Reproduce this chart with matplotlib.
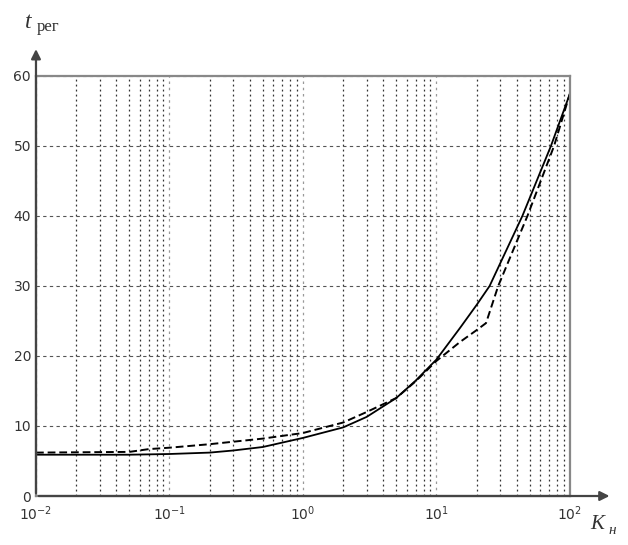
import numpy as np
import matplotlib
matplotlib.use('Agg')
import matplotlib.pyplot as plt

# K_н values and the two curves t_рег(K_н)
K_s = [0.01, 0.05, 0.1, 0.2, 0.3, 0.5, 1, 2, 3, 5, 7, 10, 15, 20, 25, 44, 72, 100]
t_solid = [5.9, 5.9, 6.0, 6.2, 6.5, 7.0, 8.3, 9.8, 11.3, 14.0, 16.5, 19.5, 24.0, 27.3, 30.0, 40.0, 50.0, 57.5]

K_d = [0.01, 0.05, 0.07, 0.1, 0.2, 0.5, 1, 2, 3, 5, 7, 10, 15, 20, 23.5, 29, 48, 76, 100]
t_dash = [6.2, 6.3, 6.7, 6.9, 7.4, 8.2, 9.0, 10.5, 12.0, 14.0, 16.4, 19.3, 22.0, 23.7, 24.7, 30.0, 40.0, 50.0, 57.5]

y_ticks = [0, 10, 20, 30, 40, 50, 60]
x_ticks = [0.01, 0.1, 1, 10, 100]
x_labels = ['$10^{-2}$', '$10^{-1}$', '$10^{0}$', '$10^{1}$', '$10^{2}$']

fig = plt.figure(figsize=(6.28, 5.45), dpi=100)
ax = fig.add_axes([0.0573, 0.0899, 0.8503, 0.7707])

ax.set_xscale('log')
ax.set_xlim(0.01, 100)
ax.set_ylim(0, 60)

ax.grid(True, which='major', axis='y', linestyle=(0, (3, 3)), color='#555555', lw=0.8)
ax.grid(True, which='major', axis='x', linestyle=(0, (2, 3)), color='#999999', lw=0.9)
ax.grid(True, which='minor', axis='x', linestyle=(0, (1.5, 2.5)), color='#333333', lw=0.9)

ax.plot(K_s, t_solid, color='black', lw=1.3)
ax.plot(K_d, t_dash, color='black', lw=1.4, linestyle=(0, (4, 2)))

ax.set_xticks(x_ticks)
ax.set_xticklabels(x_labels)
ax.set_yticks(y_ticks)
ax.tick_params(which='both', length=0, labelsize=10, colors='#333333')
ax.tick_params(axis='x', pad=6)

for s in ax.spines.values():
    s.set_color('#888888')
    s.set_linewidth(1.6)

# axis arrows
ax.annotate('', xy=(0.0573, 0.915), xycoords='figure fraction',
            xytext=(0.0573, 0.0899), textcoords='figure fraction',
            arrowprops=dict(arrowstyle='-|>', color='#444444', lw=1.6, mutation_scale=14))
ax.annotate('', xy=(0.975, 0.0899), xycoords='figure fraction',
            xytext=(0.0573, 0.0899), textcoords='figure fraction',
            arrowprops=dict(arrowstyle='-|>', color='#444444', lw=1.6, mutation_scale=14))

fig.text(0.040, 0.958, 't', fontsize=17, family='Liberation Serif', style='italic', color='#333333', va='center')
fig.text(0.058, 0.950, 'рег', fontsize=12, family='Liberation Serif', color='#333333', va='center')
fig.text(0.940, 0.038, 'K', fontsize=15, family='Liberation Serif', style='italic', color='#333333', va='center')
fig.text(0.969, 0.026, 'н', fontsize=11, family='Liberation Serif', style='italic', color='#333333', va='center')

plt.savefig('out.png', dpi=100)
